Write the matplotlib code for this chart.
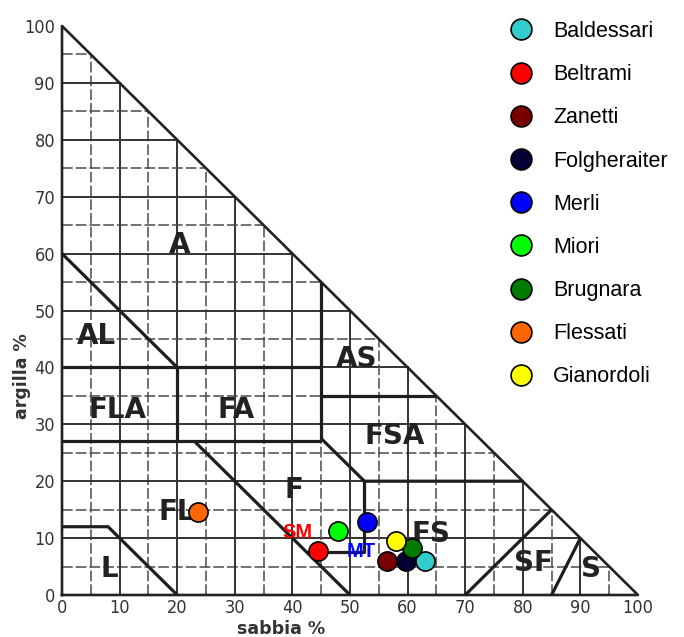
import matplotlib.pyplot as plt
from matplotlib.lines import Line2D

# samples: (sabbia %, argilla %)
names = ["Baldessari", "Beltrami", "Zanetti", "Folgheraiter", "Merli",
         "Miori", "Brugnara", "Flessati", "Gianordoli"]
sabbia = [63.0, 44.5, 56.4, 59.7, 52.9, 48.0, 60.7, 23.6, 57.9]
argilla = [6.0, 7.7, 6.0, 6.0, 12.9, 11.2, 8.2, 14.6, 9.5]
colori = ["#33CCCC", "#FF0000", "#7A0000", "#000033", "#0000FF",
          "#00FF00", "#007A00", "#FF6600", "#FFFF00"]

# texture classes (label, sabbia, argilla)
classi = ["A", "AL", "FLA", "FA", "AS", "FSA", "F", "FL", "FS", "SF", "S", "L"]
classi_x = [20.5, 6.0, 9.7, 30.2, 51.2, 57.8, 40.3, 20.0, 64.0, 81.8, 91.8, 8.3]
classi_y = [61.5, 45.5, 32.5, 32.5, 41.5, 28.0, 18.5, 14.5, 10.8, 5.6, 4.6, 4.6]

# class boundaries as polylines of (sabbia, argilla)
confini = [
    [(0, 60), (20, 40)],
    [(0, 40), (45, 40)],
    [(20, 40), (20, 27)],
    [(0, 27), (45, 27)],
    [(45, 55), (45, 27)],
    [(45, 35), (65, 35)],
    [(45, 27.5), (52.5, 20), (80, 20)],
    [(52.5, 20), (52.5, 7.5), (42.5, 7.5)],
    [(23, 27), (50, 0)],
    [(0, 12), (8, 12), (20, 0)],
    [(70, 0), (85, 15)],
    [(85, 0), (90, 10)],
]

fig = plt.figure(figsize=(6.84, 6.37), dpi=100)
ax = fig.add_axes([62 / 684, 42 / 637, 576 / 684, 569 / 637])
ax.set_xlim(0, 100)
ax.set_ylim(0, 100)
for s in ax.spines.values():
    s.set_visible(False)

# grid every 5 %, clipped at the hypotenuse
for v in range(5, 100, 5):
    if v % 10 == 0:
        kw = dict(color="#333333", lw=1.4, ls="-")
    else:
        kw = dict(color="#4a4a4a", lw=1.1, ls=(0, (7, 2)))
    ax.plot([v, v], [0, 100 - v], zorder=1, **kw)
    ax.plot([0, 100 - v], [v, v], zorder=1, **kw)

# triangle outline
ax.plot([0, 100, 0, 0], [0, 0, 100, 0], color="#222222", lw=1.9, zorder=2,
        clip_on=False)

for linea in confini:
    xs = [p[0] for p in linea]
    ys = [p[1] for p in linea]
    ax.plot(xs, ys, color="#1e1e1e", lw=2.3, zorder=2, solid_capstyle="butt")

for lab, x, y in zip(classi, classi_x, classi_y):
    ax.text(x, y, lab, fontsize=20, fontweight="bold", color="#222222",
            ha="center", va="center", zorder=3)

tick_font = dict(family="DejaVu Sans", fontstretch="condensed",
                 fontsize=13, color="#333333")
ticks = list(range(0, 101, 10))
ax.set_xticks(ticks)
ax.set_yticks(ticks)
ax.set_xticklabels([str(t) for t in ticks], **tick_font)
ax.set_yticklabels([str(t) for t in ticks], **tick_font)
ax.tick_params(axis="x", length=0, pad=3)
ax.tick_params(axis="y", length=0, pad=5)

ax.text(38, -6.0, "sabbia %", fontsize=12.5, fontweight="bold",
        color="#333333", ha="center", va="center", clip_on=False)
ax.text(-7.0, 38.5, "argilla %", fontsize=12.5, fontweight="bold",
        color="#333333", rotation=90, ha="center", va="center",
        clip_on=False)

# sample points
for n, x, y, c in zip(names, sabbia, argilla, colori):
    ax.scatter(x, y, s=190, color=c, edgecolor="black", linewidth=1.2,
               zorder=5, clip_on=False)

ax.text(40.9, 11.0, "SM", color="#FF0000", fontsize=14.5, fontweight="bold",
        family="Liberation Sans", ha="center", va="center", zorder=6)
ax.text(52.0, 7.6, "MT", color="#0000FF", fontsize=14.5, fontweight="bold",
        family="Liberation Sans", ha="center", va="center", zorder=6)

handles = [Line2D([], [], ls="none", marker="o", markersize=15,
                  markerfacecolor=c, markeredgecolor="black",
                  markeredgewidth=1.2) for c in colori]
fig.legend(handles, names, loc="upper left",
           bbox_to_anchor=(510 / 684, 1 - 21 / 637), frameon=False,
           prop=dict(family="Liberation Sans", size=15.5),
           handlelength=1.0, handletextpad=1.0, labelspacing=1.03,
           borderpad=0, borderaxespad=0)

fig.savefig("out.png", dpi=100)
